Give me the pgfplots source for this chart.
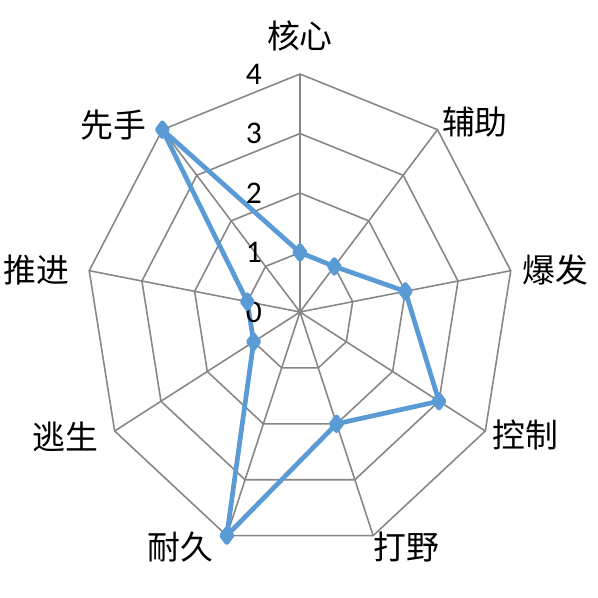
\documentclass[border=0pt]{standalone}
\usepackage{pgfplots}
\pgfplotsset{compat=1.18}
\usepackage{fontspec}
\setmainfont{Carlito}
\newfontfamily\cjk{Noto Sans CJK SC}
\definecolor{gridgray}{RGB}{134,134,134}
\definecolor{serblue}{RGB}{91,155,213}
\begin{document}
\begin{tikzpicture}
\begin{axis}[
  scale only axis, width=8cm, height=8cm,
  xmin=-5.607, xmax=5.570, ymin=-4.807, ymax=5.244,
  hide axis, clip=false,
]
% rings
\addplot[gridgray, line width=0.6pt, data cs=polar] coordinates {(90,1) (50,1) (10,1) (-30,1) (-70,1) (-110,1) (-150,1) (170,1) (130,1) (90,1)};
\addplot[gridgray, line width=0.6pt, data cs=polar] coordinates {(90,2) (50,2) (10,2) (-30,2) (-70,2) (-110,2) (-150,2) (170,2) (130,2) (90,2)};
\addplot[gridgray, line width=0.6pt, data cs=polar] coordinates {(90,3) (50,3) (10,3) (-30,3) (-70,3) (-110,3) (-150,3) (170,3) (130,3) (90,3)};
\addplot[gridgray, line width=0.6pt, data cs=polar] coordinates {(90,4) (50,4) (10,4) (-30,4) (-70,4) (-110,4) (-150,4) (170,4) (130,4) (90,4)};
% spokes
\addplot[gridgray, line width=0.6pt, data cs=polar] coordinates {(90,4) (0,0) (50,4) (0,0) (10,4) (0,0) (-30,4) (0,0) (-70,4) (0,0) (-110,4) (0,0) (-150,4) (0,0) (170,4) (0,0) (130,4)};
% data
\addplot[serblue, line width=1.8pt, line join=round, mark=diamond*, mark size=2.6pt, mark options={solid, fill=serblue}, data cs=polar] coordinates {
(90,1) (50,1) (10,2) (-30,3) (-70,2) (-110,4) (-150,1) (170,1) (130,4) (90,1)};
% radial tick labels
\begin{scope}[every node/.style={font=\fontsize{12}{14}\selectfont}]
\node at (axis cs:-0.86,0) {0};
\node at (axis cs:-0.86,1) {1};
\node at (axis cs:-0.86,2) {2};
\node at (axis cs:-0.86,3) {3};
\node at (axis cs:-0.86,4) {4};
\end{scope}
% category labels
\begin{scope}[every node/.style={font=\cjk\fontsize{12.5}{14}\selectfont}]
\node at (axis cs:0,4.64) {核心};
\node at (axis cs:3.27,3.19) {辅助};
\node at (axis cs:4.77,0.71) {爆发};
\node at (axis cs:4.22,-2.07) {控制};
\node at (axis cs:1.99,-3.95) {打野};
\node at (axis cs:-2.24,-3.95) {耐久};
\node at (axis cs:-4.39,-2.10) {逃生};
\node at (axis cs:-4.92,0.71) {推进};
\node at (axis cs:-3.48,3.14) {先手};
\end{scope}
\end{axis}
\pgfresetboundingbox
\useasboundingbox (current axis.south west) rectangle (current axis.north east);
\end{tikzpicture}
\end{document}
